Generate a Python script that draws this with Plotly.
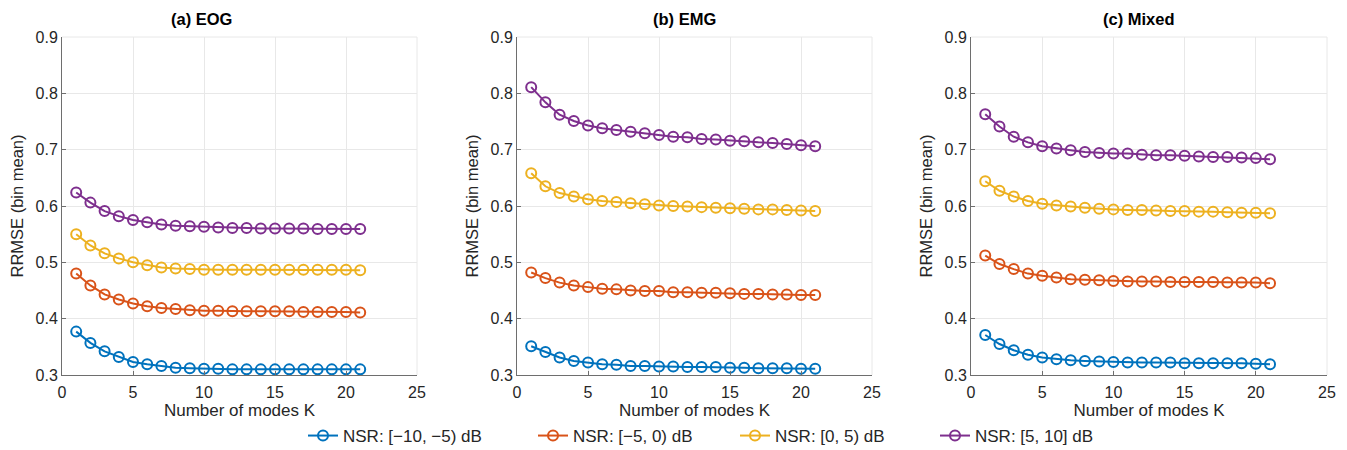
import plotly.graph_objects as go
from plotly.subplots import make_subplots

K = list(range(1, 22))

panel_titles = ["(a) EOG", "(b) EMG", "(c) Mixed"]
series_names = ["NSR: [\u221210, \u22125) dB", "NSR: [\u22125, 0) dB", "NSR: [0, 5) dB", "NSR: [5, 10] dB"]
colors = ["#0072BD", "#D95319", "#EDB120", "#7E2F8E"]

eog_m10 = [0.377, 0.357, 0.342, 0.332, 0.323, 0.319, 0.316, 0.313, 0.312, 0.311, 0.311, 0.310, 0.310, 0.310, 0.310, 0.310, 0.310, 0.310, 0.310, 0.310, 0.310]
eog_m5 = [0.480, 0.459, 0.443, 0.434, 0.427, 0.422, 0.419, 0.417, 0.415, 0.414, 0.414, 0.413, 0.413, 0.413, 0.413, 0.413, 0.412, 0.412, 0.412, 0.412, 0.411]
eog_0 = [0.550, 0.530, 0.516, 0.507, 0.500, 0.495, 0.491, 0.489, 0.488, 0.487, 0.487, 0.487, 0.487, 0.487, 0.487, 0.487, 0.487, 0.487, 0.487, 0.487, 0.486]
eog_5 = [0.624, 0.606, 0.591, 0.582, 0.575, 0.571, 0.567, 0.565, 0.564, 0.563, 0.562, 0.561, 0.561, 0.560, 0.560, 0.560, 0.560, 0.559, 0.559, 0.559, 0.559]

emg_m10 = [0.351, 0.341, 0.331, 0.325, 0.322, 0.319, 0.318, 0.316, 0.316, 0.315, 0.315, 0.314, 0.314, 0.314, 0.313, 0.313, 0.312, 0.312, 0.312, 0.311, 0.311]
emg_m5 = [0.482, 0.472, 0.464, 0.459, 0.456, 0.453, 0.452, 0.450, 0.449, 0.449, 0.447, 0.447, 0.446, 0.446, 0.445, 0.444, 0.444, 0.443, 0.443, 0.442, 0.442]
emg_0 = [0.658, 0.635, 0.623, 0.617, 0.612, 0.609, 0.607, 0.605, 0.603, 0.601, 0.600, 0.599, 0.598, 0.597, 0.596, 0.595, 0.594, 0.594, 0.593, 0.592, 0.591]
emg_5 = [0.811, 0.784, 0.762, 0.751, 0.743, 0.738, 0.735, 0.732, 0.729, 0.726, 0.723, 0.722, 0.719, 0.718, 0.716, 0.715, 0.713, 0.712, 0.710, 0.708, 0.706]

mix_m10 = [0.371, 0.355, 0.344, 0.336, 0.331, 0.328, 0.326, 0.325, 0.324, 0.323, 0.322, 0.322, 0.322, 0.322, 0.321, 0.321, 0.321, 0.321, 0.321, 0.320, 0.319]
mix_m5 = [0.512, 0.497, 0.488, 0.480, 0.476, 0.473, 0.470, 0.469, 0.468, 0.467, 0.466, 0.466, 0.466, 0.465, 0.465, 0.465, 0.465, 0.464, 0.464, 0.464, 0.463]
mix_0 = [0.644, 0.627, 0.617, 0.609, 0.604, 0.601, 0.599, 0.597, 0.595, 0.594, 0.593, 0.593, 0.592, 0.591, 0.591, 0.590, 0.590, 0.589, 0.588, 0.588, 0.587]
mix_5 = [0.763, 0.741, 0.723, 0.713, 0.706, 0.702, 0.699, 0.696, 0.694, 0.693, 0.693, 0.691, 0.690, 0.690, 0.689, 0.688, 0.687, 0.687, 0.686, 0.685, 0.683]

panels = [
    [eog_m10, eog_m5, eog_0, eog_5],
    [emg_m10, emg_m5, emg_0, emg_5],
    [mix_m10, mix_m5, mix_0, mix_5],
]

x_ticks = [0, 5, 10, 15, 20, 25]
y_ticks = [0.3, 0.4, 0.5, 0.6, 0.7, 0.8, 0.9]

W, H = 1347, 450
FONT = "Liberation Sans, Arial, sans-serif"
TXT = "#262626"
GRID = "#e8e8e8"
AXIS = "#6e6e6e"

fig = make_subplots(rows=1, cols=3)

legend_ids = ["legend", "legend2", "legend3", "legend4"]

for pi, series in enumerate(panels):
    for si, ys in enumerate(series):
        fig.add_trace(
            go.Scatter(
                x=K, y=ys, mode="lines+markers", name=series_names[si],
                line=dict(color=colors[si], width=2),
                marker=dict(symbol="circle-open", size=10, color=colors[si], line=dict(width=2, color=colors[si])),
                showlegend=(pi == 0), legend=legend_ids[si],
            ),
            row=1, col=pi + 1,
        )

xdoms = [(62, 417), (517, 872), (971, 1327)]
title_centers = [201, 684, 1139]
ytop, ybot = 37, 375
ydom = [(H - ybot) / H, (H - ytop) / H]

for i in range(3):
    xa = "xaxis" if i == 0 else f"xaxis{i+1}"
    ya = "yaxis" if i == 0 else f"yaxis{i+1}"
    fig.layout[xa].update(
        domain=[xdoms[i][0] / W, xdoms[i][1] / W], range=[0, 25], tickvals=x_ticks,
        showgrid=True, gridcolor=GRID, gridwidth=1, zeroline=False,
        showline=True, linecolor=AXIS, linewidth=1, mirror=False,
        ticks="inside", ticklen=4, tickcolor=AXIS, ticklabelstandoff=3,
        tickfont=dict(family=FONT, size=16, color=TXT), automargin=False,
    )
    fig.layout[xa].title.text = "Number of modes K"
    fig.layout[xa].title.font = dict(family=FONT, size=17, color=TXT)
    fig.layout[xa].title.standoff = 2
    fig.layout[ya].update(
        domain=ydom, range=[0.3, 0.9], tickvals=y_ticks, ticktext=[f"{v:.1f}" for v in y_ticks],
        showgrid=True, gridcolor=GRID, gridwidth=1, zeroline=False,
        showline=True, linecolor=AXIS, linewidth=1, mirror=False,
        ticks="inside", ticklen=4, tickcolor=AXIS,
        tickfont=dict(family=FONT, size=16, color=TXT), automargin=False,
    )
    fig.layout[ya].title.text = "RRMSE (bin mean)"
    fig.layout[ya].title.font = dict(family=FONT, size=16.5, color=TXT)
    fig.layout[ya].title.standoff = 7
    fig.add_shape(type="line", xref="paper", yref="paper",
                  x0=xdoms[i][0] / W, x1=xdoms[i][1] / W, y0=ydom[1], y1=ydom[1],
                  line=dict(color=GRID, width=1))
    fig.add_shape(type="line", xref="paper", yref="paper",
                  x0=xdoms[i][1] / W, x1=xdoms[i][1] / W, y0=ydom[0], y1=ydom[1],
                  line=dict(color=GRID, width=1))
    fig.add_annotation(
        text=f"<b>{panel_titles[i]}</b>", xref="paper", yref="paper",
        x=title_centers[i] / W, y=(H - 19) / H,
        showarrow=False, font=dict(family=FONT, size=16.5, color="#000000"),
        xanchor="center", yanchor="middle",
    )

legend_text_starts = [343, 573, 775, 975]
legend_cfg = {}
for li, lid in enumerate(legend_ids):
    legend_cfg[lid] = dict(
        orientation="h", x=(legend_text_starts[li] - 40) / W, xanchor="left",
        y=(H - 436) / H, yanchor="middle",
        font=dict(family=FONT, size=17, color=TXT),
        bgcolor="rgba(0,0,0,0)", borderwidth=0,
    )

fig.update_layout(
    width=W, height=H,
    margin=dict(l=0, r=0, t=0, b=0, autoexpand=False),
    paper_bgcolor="white", plot_bgcolor="white",
    font=dict(family=FONT, size=16, color=TXT),
    showlegend=True,
    **legend_cfg,
)

fig.write_html("out.html")
